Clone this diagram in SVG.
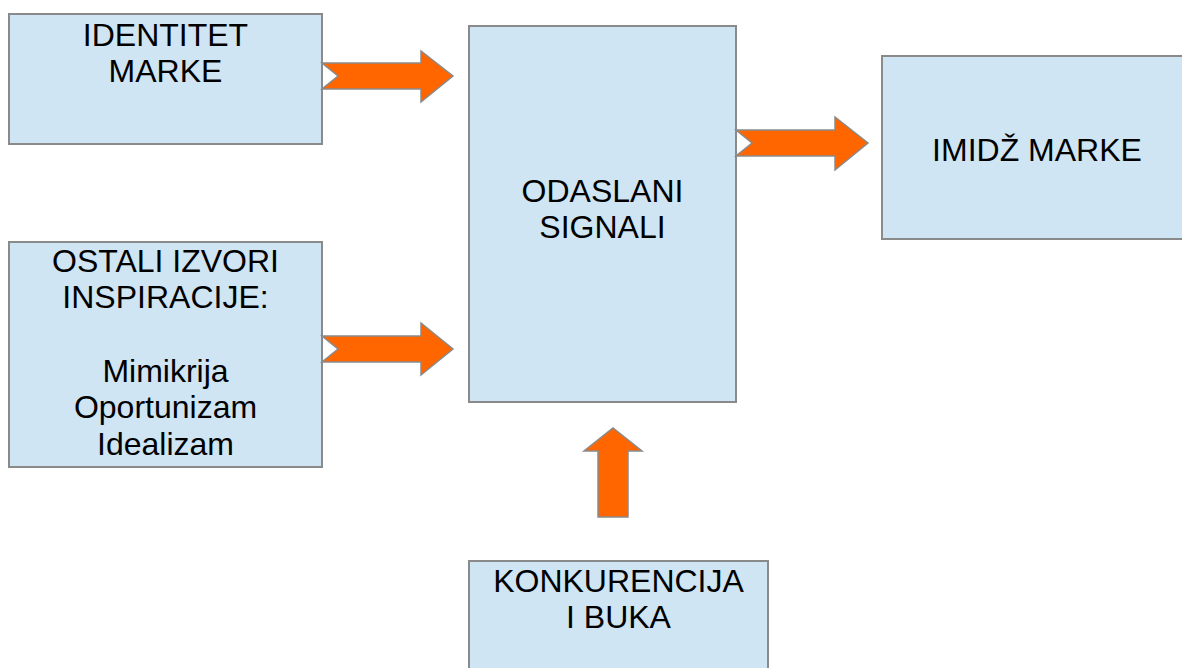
<svg xmlns="http://www.w3.org/2000/svg" width="1182" height="668" viewBox="0 0 1182 668">
<style>
.box{fill:#cfe5f3;stroke:#8a8a8a;stroke-width:2}
.arr{fill:#ff6600;stroke:#8a8a8a;stroke-width:1.5;stroke-linejoin:miter}
text{font-family:"Liberation Sans",Arial,sans-serif;font-size:24pt;fill:#000;text-anchor:middle}
</style>
<rect width="1182" height="668" fill="#fff"/>
<g id="n-identitet">
<rect class="box" x="9" y="14" width="313" height="130"/>
<text x="165.5" y="46">IDENTITET</text>
<text x="165.5" y="82">MARKE</text>
</g>
<g id="n-ostali">
<rect class="box" x="9" y="242" width="313" height="225"/>
<text x="165.5" y="272">OSTALI IZVORI</text>
<text x="165.5" y="308">INSPIRACIJE:</text>
<text x="165.5" y="382">Mimikrija</text>
<text x="165.5" y="418">Oportunizam</text>
<text x="165.5" y="455">Idealizam</text>
</g>
<g id="n-odaslani">
<rect class="box" x="469" y="26" width="267" height="376"/>
<text x="602.5" y="202">ODASLANI</text>
<text x="602.5" y="238">SIGNALI</text>
</g>
<g id="n-imidz">
<rect class="box" x="882" y="56" width="310" height="183"/>
<text x="1037" y="161">IMIDŽ MARKE</text>
</g>
<g id="n-konkurencija">
<rect class="box" x="469" y="561" width="299" height="120"/>
<text x="618.5" y="592">KONKURENCIJA</text>
<text x="618.5" y="628">I BUKA</text>
</g>
<g id="connectors">
<polygon class="arr" points="322,63 421,63 421,51 453,76 421,102 421,89 322,89 338,76"/>
<polygon class="arr" points="322,336 421,336 421,323 453,349 421,375 421,362 322,362 338,349"/>
<polygon class="arr" points="736,130 835,130 835,117 868,143 835,170 835,156 736,156 752,143"/>
<polygon class="arr" points="598,517 598,451 584,451 613,428 642,451 628,451 628,517"/>
</g>
</svg>
